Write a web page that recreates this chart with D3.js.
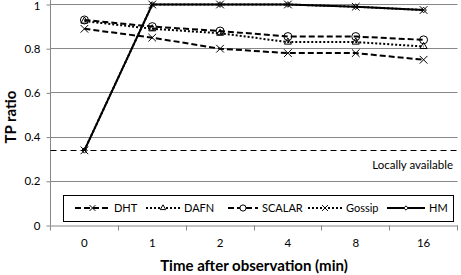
<!DOCTYPE html>
<html>
<head>
<meta charset="utf-8">
<script src="https://cdn.jsdelivr.net/npm/d3@7"></script>
<style>
  body { margin: 0; background: #fff; }
  svg { display: block; font-family: Lato, 'Open Sans', sans-serif; }
</style>
</head>
<body>
<svg></svg>
<script>
// data
var categories = ['0', '1', '2', '4', '8', '16'];
var dht = [0.89, 0.85, 0.8, 0.78, 0.78, 0.75];
var dafn = [0.925, 0.89, 0.87, 0.83, 0.83, 0.81];
var scalar = [0.93, 0.9, 0.88, 0.855, 0.855, 0.84];
var gossip = [0.34, 1, 1, 1, 0.99, 0.975];
var hm = [0.34, 1, 1, 1, 0.99, 0.975];
var seriesNames = ['DHT', 'DAFN', 'SCALAR', 'Gossip', 'HM'];
var yTicks = [0, 0.2, 0.4, 0.6, 0.8, 1];
var localValue = 0.34;

var width = 461;
var height = 275;
var plotLeft = 50.5;
var plotRight = 457.5;
var plotTop = 4.5;
var plotBottom = 225.5;

var styles = [
  { dash: '6,3', symbol: d3.symbolTimes, size: 40 },
  { dash: '2,2', symbol: d3.symbolTriangle2, size: 36 },
  { dash: '6,3', symbol: d3.symbolCircle, size: 50 },
  { dash: '2,2', symbol: d3.symbolTimes, size: 40 },
  { dash: null, symbol: d3.symbolDiamond2, size: 20 },
];
var series = [dht, dafn, scalar, gossip, hm].map(function (vals, i) {
  return { name: seriesNames[i], values: vals, style: styles[i] };
});

var svg = d3.select('svg').attr('width', width).attr('height', height);

var xScale = d3.scaleBand().domain(categories).range([plotLeft, plotRight]);
var yScale = d3.scaleLinear().domain([0, 1]).range([plotBottom, plotTop]);
var cx = function (c) { return xScale(c) + xScale.bandwidth() / 2; };

// gridlines
svg.append('g')
  .selectAll('line')
  .data(yTicks.filter(function (t) { return t > 0; }))
  .enter()
  .append('line')
  .attr('x1', plotLeft)
  .attr('x2', plotRight)
  .attr('y1', function (d) { return Math.round(yScale(d) - 0.5) + 0.5; })
  .attr('y2', function (d) { return Math.round(yScale(d) - 0.5) + 0.5; })
  .attr('stroke', '#878787');

// y axis
var yAxis = d3.axisLeft(yScale)
  .tickValues(yTicks)
  .tickFormat(d3.format(''))
  .tickSize(4)
  .tickSizeOuter(0)
  .tickPadding(6);
var yg = svg.append('g')
  .attr('transform', 'translate(' + plotLeft + ',0)')
  .call(yAxis);
yg.select('.domain').attr('stroke', '#878787').attr('d', 'M0,0V' + plotBottom);
yg.selectAll('.tick line').attr('stroke', '#878787');
yg.selectAll('.tick text')
  .attr('font-size', 11.5)
  .attr('font-family', 'Lato, sans-serif')
  .attr('fill', '#000')
  .attr('y', function (d) { return d === 1 ? 1 : 0; });

// x axis with ticks on category boundaries
var xAxis = d3.axisBottom(xScale).tickSize(0).tickSizeOuter(0).tickPadding(13);
var xg = svg.append('g')
  .attr('transform', 'translate(0,' + plotBottom + ')')
  .call(xAxis);
xg.select('.domain').attr('stroke', '#878787');
xg.selectAll('.tick text')
  .attr('font-size', 11.5)
  .attr('font-family', 'Lato, sans-serif')
  .attr('fill', '#000');
var bounds = categories.map(function (c) { return xScale(c); }).concat([plotRight]);
xg.selectAll('line.bound')
  .data(bounds)
  .enter()
  .append('line')
  .attr('class', 'bound')
  .attr('x1', function (d) { return Math.round(d - 0.5) + 0.5; })
  .attr('x2', function (d) { return Math.round(d - 0.5) + 0.5; })
  .attr('y1', 0)
  .attr('y2', 5)
  .attr('stroke', '#878787');

// locally available baseline
svg.append('line')
  .attr('x1', plotLeft)
  .attr('x2', plotRight)
  .attr('y1', Math.round(yScale(localValue)) + 0.5)
  .attr('y2', Math.round(yScale(localValue)) + 0.5)
  .attr('stroke', '#000')
  .attr('stroke-width', 1)
  .attr('stroke-dasharray', '6,4');
svg.append('text')
  .attr('x', 453)
  .attr('y', yScale(localValue) + 19)
  .attr('text-anchor', 'end')
  .attr('font-size', 11.5)
  .text('Locally available');

// series
var line = d3.line()
  .x(function (d, i) { return cx(categories[i]); })
  .y(function (d) { return yScale(d); });

var sg = svg.selectAll('g.series')
  .data(series)
  .enter()
  .append('g')
  .attr('class', 'series');
sg.append('path')
  .attr('d', function (d) { return line(d.values); })
  .attr('fill', 'none')
  .attr('stroke', '#000')
  .attr('stroke-width', 2)
  .attr('stroke-dasharray', function (d) { return d.style.dash; });
sg.each(function (s) {
  d3.select(this)
    .selectAll('path.mark')
    .data(s.values)
    .enter()
    .append('path')
    .attr('class', 'mark')
    .attr('transform', function (d, i) {
      return 'translate(' + cx(categories[i]) + ',' + yScale(d) + ')';
    })
    .attr('d', d3.symbol().type(s.style.symbol).size(s.style.size))
    .attr('fill', 'none')
    .attr('stroke', '#000')
    .attr('stroke-width', 1);
});

// legend
var legendX = [75, 146, 228, 308, 387];
var legendY = 208;
var sampleW = [35, 34, 30, 34, 38];
svg.append('rect')
  .attr('x', 63.5)
  .attr('y', 195.5)
  .attr('width', 390)
  .attr('height', 26)
  .attr('fill', '#fff')
  .attr('stroke', '#000');
var lg = svg.selectAll('g.legend')
  .data(series)
  .enter()
  .append('g')
  .attr('class', 'legend')
  .attr('transform', function (d, i) { return 'translate(' + legendX[i] + ',' + legendY + ')'; });
lg.append('line')
  .attr('x1', 0)
  .attr('x2', function (d, i) { return sampleW[i]; })
  .attr('stroke', '#000')
  .attr('stroke-width', 2)
  .attr('stroke-dasharray', function (d) { return d.style.dash; });
lg.append('path')
  .attr('transform', function (d, i) { return 'translate(' + sampleW[i] / 2 + ',0)'; })
  .attr('d', function (d) {
    return d3.symbol().type(d.style.symbol).size(d.style.size * 0.6)();
  })
  .attr('fill', '#fff')
  .attr('stroke', '#000');
lg.append('text')
  .attr('x', function (d, i) { return sampleW[i] + 4; })
  .attr('dy', '0.35em')
  .attr('font-size', 11)
  .text(function (d) { return d.name; });

// axis titles
svg.append('text')
  .attr('x', 254)
  .attr('y', 271)
  .attr('text-anchor', 'middle')
  .attr('font-size', 15)
  .attr('font-weight', 'bold')
  .text('Time after observation (min)');
svg.append('text')
  .attr('transform', 'rotate(-90)')
  .attr('x', -117)
  .attr('y', 16)
  .attr('text-anchor', 'middle')
  .attr('font-size', 15)
  .attr('font-weight', 'bold')
  .text('TP ratio');
</script>
</body>
</html>
